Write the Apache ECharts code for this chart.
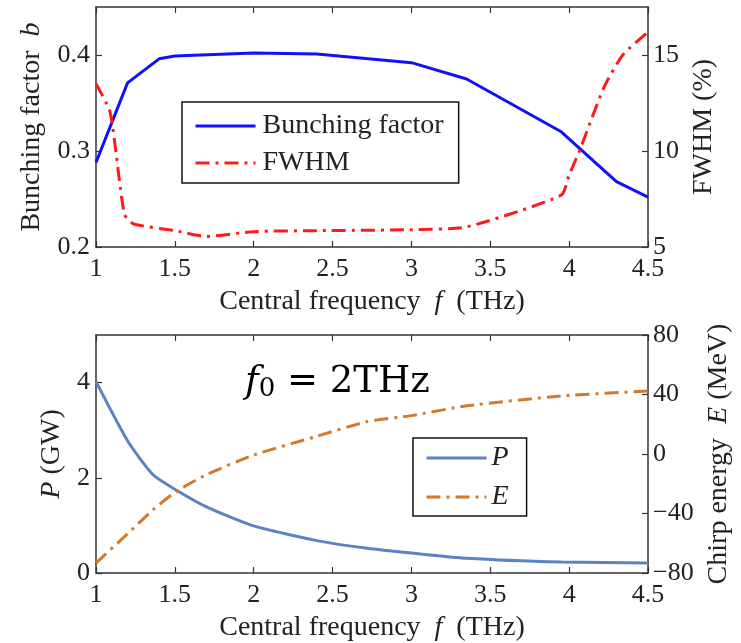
<!DOCTYPE html>
<html><head><meta charset="utf-8">
<script src="https://cdn.jsdelivr.net/npm/echarts@6/dist/echarts.min.js"></script>
<style>html,body{margin:0;padding:0;background:#fff}#c{width:741px;height:643px}</style>
</head><body><div id="c"></div>
<script>
// Top panel data
var fBunch   = [1.0, 1.2, 1.4, 1.5, 2.0, 2.4, 3.0, 3.35, 3.95, 4.3, 4.5];
var bunching = [0.288, 0.371, 0.396, 0.399, 0.402, 0.401, 0.392, 0.375, 0.320, 0.268, 0.252];
var fFwhm    = [1.0, 1.09, 1.18, 1.24, 1.5, 1.7, 2.0, 2.4, 3.0, 3.35, 3.95, 4.0, 4.07, 4.22, 4.34, 4.5];
var fwhm     = [13.5, 12.0, 6.7, 6.2, 5.85, 5.55, 5.8, 5.85, 5.9, 6.05, 7.7, 8.75, 10.1, 13.3, 15.0, 16.2];
// Bottom panel data
var fBot   = [1.0, 1.2, 1.36, 1.5, 1.7, 2.0, 2.4, 2.72, 3.0, 3.35, 3.95, 4.5];
var power  = [4.02, 2.78, 2.07, 1.76, 1.39, 0.99, 0.68, 0.52, 0.42, 0.31, 0.23, 0.21];
var energy = [-73.4, -53.6, -37.7, -25.8, -13.9, -0.7, 11.9, 21.8, 25.8, 32.4, 39.0, 42.3];
var xTicks = {min: 1, max: 4.5, interval: 0.5};

function pairs(xs, ys){ return xs.map(function(x,i){ return [x, ys[i]]; }); }

var FONT = 'Liberation Serif';
var axLine = {show: true, onZero: false, lineStyle: {color: '#333', width: 1.5}};
var tick = {show: true, inside: true, length: 6, lineStyle: {color: '#333', width: 1.2}};
var lbl = {color: '#222', fontFamily: FONT, fontSize: 26};
var NS = 28;
var nameStyle = {color: '#222', fontFamily: FONT, fontSize: NS,
  rich: {n: {fontFamily: FONT, fontSize: NS, color: '#222'}, i: {fontFamily: FONT, fontSize: NS, fontStyle: 'italic', color: '#222'}}};

function xAx(grid){
  return {type: 'value', gridIndex: grid, min: xTicks.min, max: xTicks.max, interval: xTicks.interval,
    axisLine: axLine, axisTick: tick, splitLine: {show: false},
    axisLabel: Object.assign({margin: 9}, lbl),
    name: '{n|Central frequency}  {i|f}  {n|(THz)}', nameLocation: 'middle', nameGap: 41, nameTextStyle: nameStyle};
}
function xTop(grid){
  return {type: 'value', gridIndex: grid, position: 'top', min: xTicks.min, max: xTicks.max, interval: xTicks.interval,
    axisLine: axLine, axisTick: tick, splitLine: {show: false}, axisLabel: {show: false}};
}

var option = {
  animation: false,
  backgroundColor: '#fff',
  grid: [
    {left: 96, right: 93, top: 7, height: 240},
    {left: 96, right: 93, top: 335, height: 242}
  ],
  xAxis: [xAx(0), xAx(1), xTop(0), xTop(1)],
  yAxis: [
    {type: 'value', gridIndex: 0, position: 'left', min: 0.2, max: 0.45, interval: 0.1,
      axisLine: axLine, axisTick: tick, splitLine: {show: false},
      axisLabel: Object.assign({showMaxLabel: false, margin: 6, formatter: function(v){return v.toFixed(1);}}, lbl),
      name: '{n|Bunching factor}  {i|b}', nameLocation: 'middle', nameRotate: 90, nameGap: 50, nameTextStyle: nameStyle},
    {type: 'value', gridIndex: 0, position: 'right', min: 5, max: 17.5, interval: 5,
      axisLine: axLine, axisTick: tick, splitLine: {show: false},
      axisLabel: Object.assign({showMaxLabel: false, margin: 5}, lbl),
      name: 'FWHM (%)', nameLocation: 'middle', nameRotate: 90, nameGap: 41, nameTextStyle: nameStyle},
    {type: 'value', gridIndex: 1, position: 'left', min: 0, max: 5, interval: 2,
      axisLine: axLine, axisTick: tick, splitLine: {show: false},
      axisLabel: Object.assign({showMaxLabel: false, margin: 6}, lbl),
      name: '{i|P}{n| (GW)}', nameLocation: 'middle', nameRotate: 90, nameGap: 27, nameTextStyle: nameStyle},
    {type: 'value', gridIndex: 1, position: 'right', min: -80, max: 80, interval: 40,
      axisLine: axLine, axisTick: tick, splitLine: {show: false},
      axisLabel: Object.assign({margin: 5, formatter: function(v){return v < 0 ? '\u2212' + (-v) : String(v);}}, lbl),
      name: '{n|Chirp energy}  {i|E}{n| (MeV)}', nameLocation: 'middle', nameRotate: 90, nameGap: 56, nameTextStyle: nameStyle}
  ],
  legend: [
    {orient: 'vertical', left: 182, top: 102, data: ['Bunching factor', 'FWHM'],
      backgroundColor: '#fff', borderColor: '#111', borderWidth: 1.5, padding: [10, 15, 6, 12],
      itemWidth: 60, itemHeight: 14, itemGap: 9,
      itemStyle: {opacity: 0}, lineStyle: {width: 3},
      textStyle: {fontFamily: FONT, fontSize: 28, color: '#222', padding: [0, 0, 0, 2]}},
    {orient: 'vertical', left: 413, top: 438, data: ['P', 'E'],
      backgroundColor: '#fff', borderColor: '#111', borderWidth: 1.5, padding: [6, 18, 5, 12],
      itemWidth: 60, itemHeight: 14, itemGap: 11,
      itemStyle: {opacity: 0}, lineStyle: {width: 3},
      textStyle: {fontFamily: FONT, fontSize: 28, fontStyle: 'italic', color: '#222'}}
  ],
  graphic: [
    {type: 'text', left: 245, top: 364, style: {
      text: '{i|f}{s|0}{n| = 2THz}', rich: {
        i: {fontFamily: 'DejaVu Serif', fontStyle: 'italic', fontSize: 37, fill: '#000'},
        s: {fontFamily: 'DejaVu Serif', fontSize: 26, fill: '#000', padding: [14, 0, 0, 0]},
        n: {fontFamily: 'DejaVu Serif', fontSize: 37, fill: '#000'}}}}
  ],
  series: [
    {name: 'Bunching factor', type: 'line', xAxisIndex: 0, yAxisIndex: 0, data: pairs(fBunch, bunching),
      symbol: 'none', lineStyle: {color: '#1010ff', width: 3}, itemStyle: {color: '#1010ff'}},
    {name: 'FWHM', type: 'line', xAxisIndex: 0, yAxisIndex: 1, data: pairs(fFwhm, fwhm), smooth: 0.2,
      symbol: 'none', lineStyle: {color: '#ff1a1a', width: 3, type: [14, 6, 3, 6]}, itemStyle: {color: '#ff1a1a'}},
    {name: 'P', type: 'line', xAxisIndex: 1, yAxisIndex: 2, data: pairs(fBot, power), smooth: 0.2,
      symbol: 'none', lineStyle: {color: '#5a82c4', width: 3}, itemStyle: {color: '#5a82c4'}},
    {name: 'E', type: 'line', xAxisIndex: 1, yAxisIndex: 3, data: pairs(fBot, energy), smooth: 0.2,
      symbol: 'none', lineStyle: {color: '#d4782c', width: 3, type: [14, 6, 3, 6]}, itemStyle: {color: '#d4782c'}}
  ]
};
var chart = echarts.init(document.getElementById('c'), null, {renderer: 'canvas'});
chart.setOption(option);
</script></body></html>
